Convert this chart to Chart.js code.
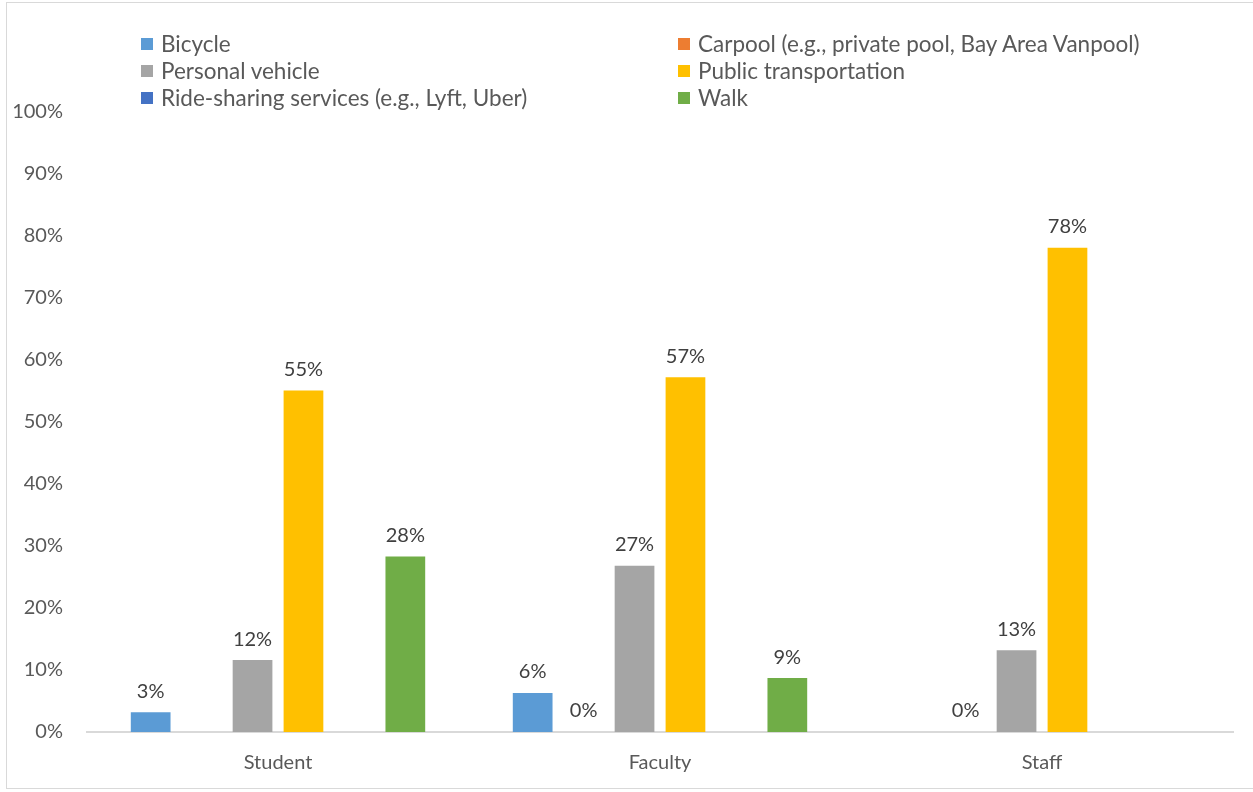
<!DOCTYPE html>
<html>
<head>
<meta charset="utf-8">
<script src="https://cdn.jsdelivr.net/npm/chart.js@4.4.1/dist/chart.umd.min.js"></script>
<style>
  html, body { margin: 0; padding: 0; background: #fff; }
  #frame {
    position: absolute; left: 6px; top: 2px; width: 1260px; height: 787px;
    border: 1.5px solid #d9d9d9; box-sizing: border-box;
  }
  #wrap { position: absolute; left: 0; top: 0; width: 1253px; height: 792px; }
  #legend {
    position: absolute; left: 141px; top: 30px;
    display: grid; grid-template-columns: 537px auto; row-gap: 0;
    font-family: Lato, sans-serif; font-size: 22.5px; color: #595959;
  }
  .item { display: flex; align-items: center; height: 27px; white-space: nowrap; }
  .swatch { width: 12px; height: 12px; margin-right: 8px; }
</style>
</head>
<body>
<div id="frame"></div>
<div id="wrap"><canvas id="chart" width="1253" height="792"></canvas></div>
<div id="legend"></div>
<script>
const groups = ["Student", "Faculty", "Staff"];
const modes = [
  "Bicycle",
  "Carpool (e.g., private pool, Bay Area Vanpool)",
  "Personal vehicle",
  "Public transportation",
  "Ride-sharing services (e.g., Lyft, Uber)",
  "Walk"
];
const colors = ["#5B9BD5", "#ED7D31", "#A5A5A5", "#FFC000", "#4472C4", "#70AD47"];

// percent of respondents per group (null = no response recorded)
const bicycle = [3.2, 6.3, null];
const carpool = [null, 0, 0];
const personal = [11.6, 26.8, 13.2];
const publicTransit = [55.1, 57.2, 78.1];
const rideShare = [null, null, null];
const walk = [28.3, 8.7, null];

const yTicks = [0, 10, 20, 30, 40, 50, 60, 70, 80, 90, 100];

const series = [bicycle, carpool, personal, publicTransit, rideShare, walk];

// legend in two columns, filled row by row
const legendEl = document.getElementById("legend");
modes.forEach((m, i) => {
  const div = document.createElement("div");
  div.className = "item";
  div.innerHTML = `<span class="swatch" style="background:${colors[i]}"></span>${m}`;
  legendEl.appendChild(div);
});

const valueLabels = {
  id: "valueLabels",
  afterDatasetsDraw(chart) {
    const ctx = chart.ctx;
    ctx.save();
    ctx.font = "20px Lato, sans-serif";
    ctx.fillStyle = "#404040";
    ctx.textAlign = "center";
    ctx.textBaseline = "bottom";
    chart.data.datasets.forEach((ds, di) => {
      chart.getDatasetMeta(di).data.forEach((bar, i) => {
        const v = ds.data[i];
        if (v === null || v === undefined) return;
        ctx.fillText(Math.round(v) + "%", bar.x, bar.y - 11);
      });
    });
    ctx.restore();
  }
};

new Chart(document.getElementById("chart"), {
  type: "bar",
  data: {
    labels: groups,
    datasets: series.map((d, i) => ({
      label: modes[i],
      data: d,
      backgroundColor: colors[i],
      categoryPercentage: 0.8,
      barPercentage: 0.78
    }))
  },
  options: {
    responsive: false,
    animation: false,
    layout: { padding: { left: 0, right: 20, top: 112, bottom: 0 } },
    plugins: {
      legend: { display: false },
      tooltip: { enabled: false }
    },
    scales: {
      x: {
        afterFit(axis) { axis.height = 60; },
        grid: { display: false, drawTicks: false },
        border: { color: "#d9d9d9", width: 2 },
        ticks: { color: "#595959", font: { family: "Lato", size: 20 }, padding: 19 }
      },
      y: {
        min: 0,
        max: 100,
        afterBuildTicks(axis) { axis.ticks = yTicks.map(v => ({ value: v })); },
        afterFit(axis) { axis.width = 87; },
        grid: { display: false, drawTicks: false },
        border: { display: false },
        ticks: {
          color: "#595959",
          font: { family: "Lato", size: 20 },
          padding: 24,
          callback: v => v + "%"
        }
      }
    }
  },
  plugins: [valueLabels]
});
</script>
</body>
</html>
